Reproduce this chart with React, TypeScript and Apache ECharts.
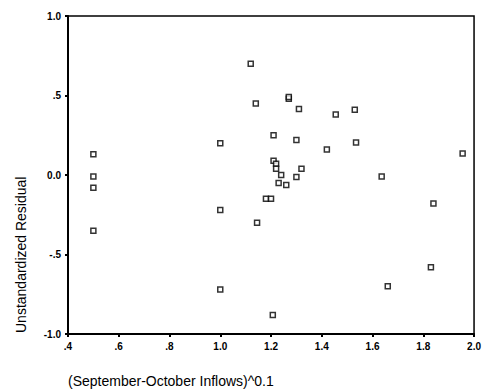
import React, { useEffect, useRef } from "react";
import * as echarts from "echarts";

const xValues = [
  0.5, 0.5, 0.5, 0.5,
  1.0, 1.0, 1.0,
  1.12, 1.14, 1.27, 1.27, 1.31, 1.455, 1.53,
  1.21, 1.30, 1.42, 1.535,
  1.21, 1.22, 1.22, 1.24, 1.32, 1.30, 1.23, 1.26,
  1.18, 1.20, 1.145, 1.207,
  1.84, 1.83, 1.66, 1.955, 1.636,
];
const yValues = [
  0.13, -0.01, -0.08, -0.35,
  0.20, -0.22, -0.72,
  0.70, 0.45, 0.48, 0.49, 0.415, 0.38, 0.41,
  0.25, 0.22, 0.16, 0.205,
  0.09, 0.07, 0.04, 0.0, 0.04, -0.013, -0.05, -0.063,
  -0.15, -0.15, -0.30, -0.88,
  -0.18, -0.58, -0.70, 0.135, -0.01,
];
const xTitle = "(September-October Inflows)^0.1";
const yTitle = "Unstandardized Residual";

const fmt = (v: number) => {
  const s = v.toFixed(1);
  if (s === "0.0" || s === "-0.0") return "0.0";
  return s.replace(/^(-?)0\./, "$1.");
};

export default function App() {
  const ref = useRef<HTMLDivElement>(null);
  useEffect(() => {
    if (!ref.current) return;
    const chart = echarts.init(ref.current, undefined, { renderer: "svg" });
    const points = xValues.map((x, i) => [x, yValues[i]]);
    const labelStyle = {
      color: "#000",
      fontFamily: "Arial, 'Liberation Sans', sans-serif",
      fontSize: 10,
      fontWeight: "bold" as const,
      formatter: fmt,
    };
    chart.setOption({
      animation: false,
      backgroundColor: "#fff",
      grid: {
        left: 68,
        top: 16,
        right: 7,
        bottom: 58,
        show: true,
        borderColor: "#000",
        borderWidth: 1.5,
      },
      xAxis: {
        type: "value",
        min: 0.4,
        max: 2.0,
        interval: 0.2,
        splitLine: { show: false },
        axisLine: { show: true, onZero: false, lineStyle: { color: "#000", width: 2 } },
        axisTick: { show: true, length: 3, lineStyle: { color: "#000", width: 2 } },
        axisLabel: { ...labelStyle, margin: 7 },
      },
      yAxis: {
        type: "value",
        min: -1.0,
        max: 1.0,
        interval: 0.5,
        splitLine: { show: false },
        axisLine: { show: true, onZero: false, lineStyle: { color: "#000", width: 2 } },
        axisTick: { show: true, length: 3, lineStyle: { color: "#000", width: 2 } },
        axisLabel: { ...labelStyle, margin: 7 },
      },
      graphic: [
        {
          type: "text",
          left: 68,
          top: 374,
          style: {
            text: xTitle,
            fill: "#000",
            fontFamily: "Arial, 'Liberation Sans', sans-serif",
            fontSize: 14,
          },
        },
        {
          type: "text",
          x: 14,
          y: 333,
          rotation: Math.PI / 2,
          style: {
            text: yTitle,
            fill: "#000",
            fontFamily: "Arial, 'Liberation Sans', sans-serif",
            fontSize: 14,
            align: "left",
            verticalAlign: "top",
          },
        },
      ],
      series: [
        {
          type: "scatter",
          data: points,
          symbol: "rect",
          symbolSize: 5,
          itemStyle: { color: "#fff", borderColor: "#000", borderWidth: 1.5 },
        },
      ],
    });
    return () => chart.dispose();
  }, []);
  return <div ref={ref} style={{ width: 484, height: 392, position: "absolute", left: 0, top: 0 }} />;
}
